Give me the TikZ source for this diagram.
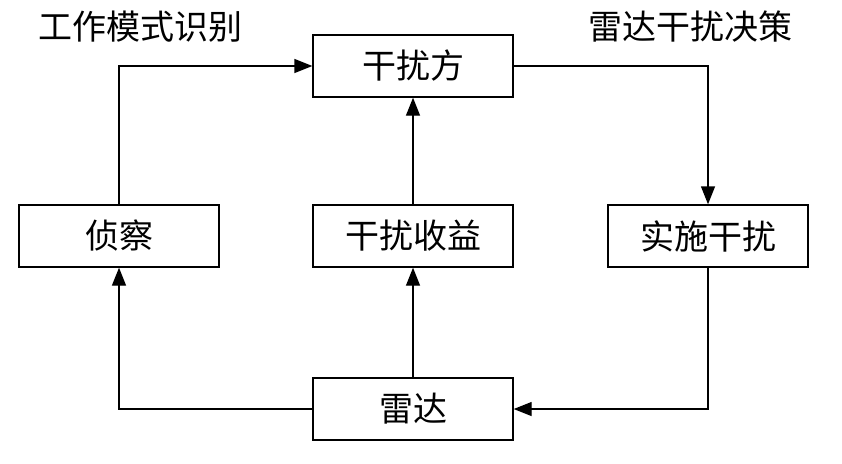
\documentclass[tikz,border=0pt]{standalone}
\usepackage{fontspec}
\newfontfamily\cjk{Noto Sans CJK SC}
\usetikzlibrary{arrows.meta}
\begin{document}
\begin{tikzpicture}[x=1pt,y=-1pt,
  box/.style={draw,line width=1.4pt,minimum width=200pt,minimum height=62pt,inner sep=0pt,font=\cjk\fontsize{34}{38}\selectfont},
  lab/.style={font=\cjk\fontsize{34}{38}\selectfont},
  arr/.style={line width=1.4pt,-{Triangle[length=18pt,width=14pt]}}]
\useasboundingbox (0,0) rectangle (842,463);
\node[box] (f) at (413,66) {干扰方};
\node[box] (z) at (119,236) {侦察};
\node[box] (s) at (413,236) {干扰收益};
\node[box] (p) at (708,236) {实施干扰};
\node[box] (r) at (413,409) {雷达};
\node[lab] (l1) at (140,27) {工作模式识别};
\node[lab] (l2) at (690,27) {雷达干扰决策};
\draw[arr] (z.north) |- (f.west);
\draw[arr] (f.east) -| (p.north);
\draw[arr] (p.south) |- (r.east);
\draw[arr] (r.west) -| (z.south);
\draw[arr] (r.north) -- (s.south);
\draw[arr] (s.north) -- (f.south);
\end{tikzpicture}
\end{document}
